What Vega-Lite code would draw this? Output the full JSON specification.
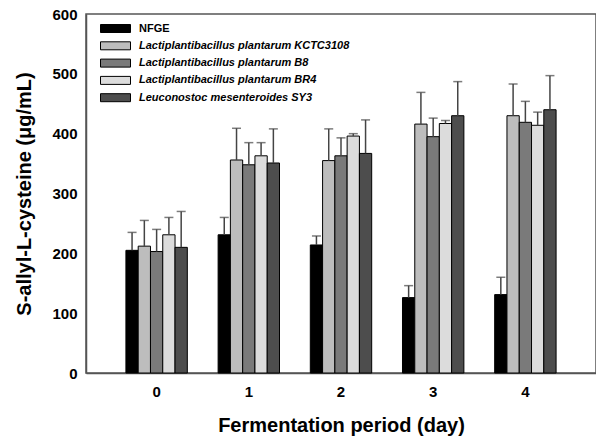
{
  "$schema": "https://vega.github.io/schema/vega-lite/v6.json",
  "autosize": {"type": "none"},
  "padding": {"left": 86, "top": 14, "right": 0, "bottom": 65},
  "width": 510,
  "height": 359,
  "background": "white",
  "config": {
    "view": {"stroke": "#555", "strokeWidth": 1.5},
    "axis": {
      "labelFont": "Liberation Sans", "labelFontWeight": "bold", "labelFontSize": 15, "labelColor": "black",
      "titleFont": "Liberation Sans", "titleFontWeight": "bold", "titleFontSize": 20, "titleColor": "black",
      "domainColor": "#555", "domainWidth": 1.5, "ticks": false, "grid": false
    },
    "legend": {
      "labelFont": "Liberation Sans", "labelFontWeight": "bold", "labelFontSize": 11, "labelColor": "black", "labelLimit": 400
    }
  },
  "data": {
    "values": [
      {"day": "0", "group": "NFGE", "value": 205, "upper": 235},
      {"day": "0", "group": "Lactiplantibacillus plantarum KCTC3108", "value": 212, "upper": 255},
      {"day": "0", "group": "Lactiplantibacillus plantarum B8", "value": 203, "upper": 240},
      {"day": "0", "group": "Lactiplantibacillus plantarum BR4", "value": 231, "upper": 260},
      {"day": "0", "group": "Leuconostoc mesenteroides SY3", "value": 210, "upper": 270},
      {"day": "1", "group": "NFGE", "value": 231, "upper": 260},
      {"day": "1", "group": "Lactiplantibacillus plantarum KCTC3108", "value": 356, "upper": 409},
      {"day": "1", "group": "Lactiplantibacillus plantarum B8", "value": 348, "upper": 385},
      {"day": "1", "group": "Lactiplantibacillus plantarum BR4", "value": 363, "upper": 385},
      {"day": "1", "group": "Leuconostoc mesenteroides SY3", "value": 351, "upper": 408},
      {"day": "2", "group": "NFGE", "value": 214, "upper": 229},
      {"day": "2", "group": "Lactiplantibacillus plantarum KCTC3108", "value": 355, "upper": 408},
      {"day": "2", "group": "Lactiplantibacillus plantarum B8", "value": 363, "upper": 393},
      {"day": "2", "group": "Lactiplantibacillus plantarum BR4", "value": 396, "upper": 400},
      {"day": "2", "group": "Leuconostoc mesenteroides SY3", "value": 367, "upper": 423},
      {"day": "3", "group": "NFGE", "value": 126, "upper": 146},
      {"day": "3", "group": "Lactiplantibacillus plantarum KCTC3108", "value": 416, "upper": 469},
      {"day": "3", "group": "Lactiplantibacillus plantarum B8", "value": 395, "upper": 426},
      {"day": "3", "group": "Lactiplantibacillus plantarum BR4", "value": 417, "upper": 422},
      {"day": "3", "group": "Leuconostoc mesenteroides SY3", "value": 430, "upper": 487},
      {"day": "4", "group": "NFGE", "value": 131, "upper": 160},
      {"day": "4", "group": "Lactiplantibacillus plantarum KCTC3108", "value": 430, "upper": 483},
      {"day": "4", "group": "Lactiplantibacillus plantarum B8", "value": 419, "upper": 454},
      {"day": "4", "group": "Lactiplantibacillus plantarum BR4", "value": 414, "upper": 436},
      {"day": "4", "group": "Leuconostoc mesenteroides SY3", "value": 440, "upper": 497}
    ]
  },
  "encoding": {
    "x": {
      "field": "day", "type": "nominal",
      "scale": {"paddingInner": 0.334, "paddingOuter": 0.433},
      "axis": {"title": "Fermentation period (day)", "labelAngle": 0, "labelPadding": 11, "titlePadding": 16}
    },
    "xOffset": {
      "field": "group", "type": "nominal",
      "sort": ["NFGE", "Lactiplantibacillus plantarum KCTC3108", "Lactiplantibacillus plantarum B8", "Lactiplantibacillus plantarum BR4", "Leuconostoc mesenteroides SY3"],
      "scale": {"paddingInner": 0, "paddingOuter": 0}
    }
  },
  "layer": [
    {
      "mark": {"type": "bar", "stroke": "black", "strokeWidth": 1},
      "encoding": {
        "y": {
          "field": "value", "type": "quantitative",
          "scale": {"domain": [0, 600], "nice": false},
          "axis": {"title": "S-allyl-L-cysteine (μg/mL)", "values": [0, 100, 200, 300, 400, 500, 600], "labelPadding": 9, "titlePadding": 17}
        },
        "color": {
          "field": "group", "type": "nominal",
          "scale": {
            "domain": ["NFGE", "Lactiplantibacillus plantarum KCTC3108", "Lactiplantibacillus plantarum B8", "Lactiplantibacillus plantarum BR4", "Leuconostoc mesenteroides SY3"],
            "range": ["#000000", "#bdbdbd", "#7a7a7a", "#dcdcdc", "#4d4d4d"]
          },
          "legend": {
            "title": null,
            "orient": "none",
            "legendX": 21,
            "legendY": 6,
            "symbolType": "M-1.875,-0.5H1.875V0.5H-1.875Z",
            "symbolSize": 256,
            "symbolStrokeColor": "black",
            "symbolStrokeWidth": 1,
            "symbolOpacity": 1,
            "rowPadding": 2.3,
            "labelOffset": 15,
            "padding": 0,
            "labelFontStyle": {"expr": "datum.label == 'NFGE' ? 'normal' : 'italic'"}
          }
        }
      }
    },
    {
      "mark": {"type": "rule", "color": "#444", "strokeWidth": 1.5},
      "encoding": {
        "y": {"field": "value", "type": "quantitative"},
        "y2": {"field": "upper"}
      }
    },
    {
      "mark": {"type": "tick", "color": "#444", "thickness": 1.5, "size": 9},
      "encoding": {
        "y": {"field": "upper", "type": "quantitative"}
      }
    }
  ]
}
